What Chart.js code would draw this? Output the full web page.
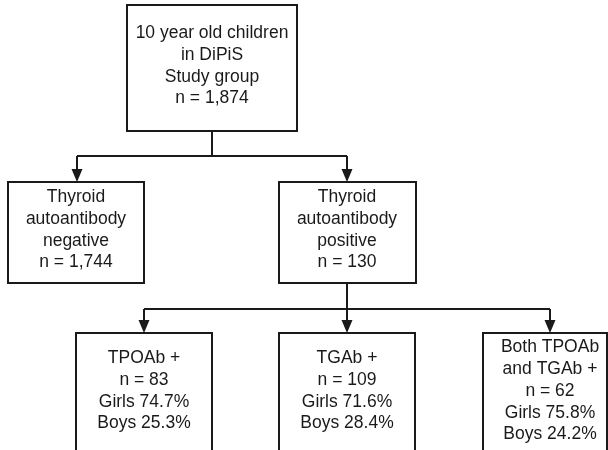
<!DOCTYPE html>
<html>
<head>
<meta charset="utf-8">
<script src="https://cdn.jsdelivr.net/npm/chart.js@4"></script>
<style>
  body { margin: 0; background: #fff; }
  #flow { display: block; }
</style>
</head>
<body>
<canvas id="flow" width="608" height="450"></canvas>
<script>
// data
const studyN = 1874;
const antibodyStatus = ['negative', 'positive'];
const antibodyN = [1744, 130];
const subtypeNames = [['TPOAb +'], ['TGAb +'], ['Both TPOAb', 'and TGAb +']];
const subtypeN = [83, 109, 62];
const girlsPct = [74.7, 71.6, 75.8];
const boysPct = [25.3, 28.4, 24.2];

function fmt(n) { return n.toLocaleString('en-US'); }

// layout (in chart units, x 0..608, y 0..450 top-down)
// box: [left, top, right, bottom, textX, textY]
const layout = [
    [127, 5, 297, 131, 212, 66],
    [8, 182, 144, 283, 76, 230],
    [279, 182, 416, 283, 347, 230],
    [76, 333, 212, 452, 144, 391],
    [279, 333, 415, 452, 347, 391],
    [483, 333, 607, 452, 550, 391]
];
const texts = [
    ['10 year old children', 'in DiPiS', 'Study group', 'n = ' + fmt(studyN)],
    ['Thyroid', 'autoantibody', antibodyStatus[0], 'n = ' + fmt(antibodyN[0])],
    ['Thyroid', 'autoantibody', antibodyStatus[1], 'n = ' + fmt(antibodyN[1])]
];
subtypeNames.forEach(function (name, i) {
    texts.push(name.concat(['n = ' + subtypeN[i], 'Girls ' + girlsPct[i].toFixed(1) + '%', 'Boys ' + boysPct[i].toFixed(1) + '%']));
});
// connector lines and arrows
const lines = [[212, 131, 212, 156], [77, 156, 347, 156], [347, 283, 347, 309], [144, 309, 550, 309]];
const arrows = [[77, 156, 182], [347, 156, 182], [144, 309, 333], [347, 309, 333], [550, 309, 333]];

const ink = '#1a1a1a';

const flowPlugin = {
    id: 'flow',
    afterDraw: function (chart) {
        const ctx = chart.ctx;
        const sx = chart.scales.x, sy = chart.scales.y;
        const px = function (v) { return sx.getPixelForValue(v); };
        const py = function (v) { return sy.getPixelForValue(v); };
        ctx.save();
        ctx.strokeStyle = ink;
        ctx.fillStyle = ink;
        ctx.lineWidth = 2;
        // boxes
        layout.forEach(function (b) {
            ctx.strokeRect(px(b[0]), py(b[1]), px(b[2]) - px(b[0]), py(b[3]) - py(b[1]));
        });
        // lines
        lines.forEach(function (l) {
            ctx.beginPath();
            ctx.moveTo(px(l[0]), py(l[1]));
            ctx.lineTo(px(l[2]), py(l[3]));
            ctx.stroke();
        });
        arrows.forEach(function (a) {
            ctx.beginPath();
            ctx.moveTo(px(a[0]), py(a[1]));
            ctx.lineTo(px(a[0]), py(a[2]) - 10);
            ctx.stroke();
            ctx.beginPath();
            ctx.moveTo(px(a[0]) - 5.5, py(a[2]) - 13);
            ctx.lineTo(px(a[0]) + 5.5, py(a[2]) - 13);
            ctx.lineTo(px(a[0]), py(a[2]));
            ctx.closePath();
            ctx.fill();
        });
        // texts
        ctx.font = '17.5px "Liberation Sans", Arial, sans-serif';
        ctx.textAlign = 'center';
        ctx.textBaseline = 'middle';
        const lh = 21.7;
        layout.forEach(function (b, i) {
            const t = texts[i];
            const y0 = py(b[5]) - (t.length - 1) * lh / 2;
            t.forEach(function (s, j) {
                ctx.fillText(s, px(b[4]), y0 + j * lh);
            });
        });
        ctx.restore();
    }
};

new Chart(document.getElementById('flow'), {
    type: 'scatter',
    data: { datasets: [] },
    options: {
        responsive: false,
        animation: false,
        layout: { padding: 0 },
        plugins: { legend: { display: false }, tooltip: { enabled: false } },
        scales: {
            x: { type: 'linear', min: 0, max: 608, display: false },
            y: { type: 'linear', min: 0, max: 450, reverse: true, display: false }
        }
    },
    plugins: [flowPlugin]
});
</script>
</body>
</html>
